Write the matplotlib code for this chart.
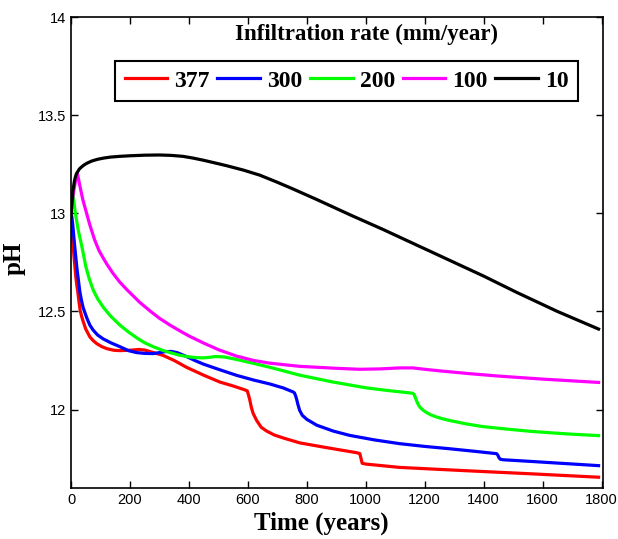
import matplotlib
matplotlib.use('Agg')
import matplotlib.pyplot as plt

# infiltration rates (mm/year) and pH vs time
rates = ['377', '300', '200', '100', '10']
colors = ['#ff0000', '#0000ff', '#00ff00', '#ff00ff', '#000000']

t_377 = [0, 2, 4, 7, 10, 13, 16, 20, 23, 27, 31, 36, 41, 50, 64, 76, 88, 105, 122, 145,
         166, 200, 230, 250, 280, 312, 350, 392, 450, 505, 550, 590, 598, 603, 607, 612,
         618, 630, 645, 664, 690, 720, 776, 870, 969, 980, 984, 988, 1000, 1115, 1342,
         1566, 1790]
ph_377 = [13.0, 12.95, 12.9, 12.84, 12.78, 12.73, 12.68, 12.63, 12.6, 12.55, 12.505, 12.475,
          12.45, 12.41, 12.37, 12.35, 12.335, 12.32, 12.31, 12.302, 12.30, 12.302, 12.306,
          12.303, 12.29, 12.276, 12.25, 12.215, 12.175, 12.14, 12.12, 12.10, 12.095, 12.07,
          12.046, 12.01, 11.98, 11.944, 11.91, 11.89, 11.87, 11.855, 11.83, 11.805, 11.78,
          11.775, 11.75, 11.726, 11.722, 11.705, 11.688, 11.672, 11.655]

t_300 = [0, 3, 6, 9, 12, 16, 20, 25, 30, 35, 41, 48, 54, 64, 75, 90, 109, 135, 166, 195,
         223, 250, 279, 300, 320, 340, 360, 392, 420, 448, 500, 562, 620, 675, 720, 753,
         758, 762, 766, 770, 776, 785, 800, 834, 890, 946, 1030, 1115, 1200, 1285, 1370,
         1444, 1448, 1452, 1456, 1466, 1566, 1790]
ph_300 = [13.0, 12.98, 12.94, 12.89, 12.84, 12.78, 12.72, 12.66, 12.6, 12.56, 12.52, 12.49,
          12.465, 12.43, 12.405, 12.38, 12.36, 12.34, 12.32, 12.30, 12.29, 12.286, 12.285,
          12.29, 12.295, 12.296, 12.29, 12.27, 12.25, 12.232, 12.205, 12.174, 12.15, 12.13,
          12.11, 12.09, 12.085, 12.07, 12.05, 12.025, 11.995, 11.97, 11.95, 11.92, 11.89,
          11.868, 11.845, 11.826, 11.812, 11.80, 11.787, 11.775, 11.768, 11.755, 11.747,
          11.744, 11.735, 11.714]

t_200 = [0, 3, 6, 9, 13, 17, 25, 34, 41, 50, 61, 75, 90, 110, 135, 166, 195, 223, 250,
         279, 310, 336, 365, 392, 420, 448, 470, 490, 520, 562, 620, 675, 776, 889, 1003,
         1080, 1159, 1164, 1168, 1172, 1178, 1185, 1195, 1206, 1222, 1240, 1260, 1285,
         1340, 1397, 1480, 1566, 1680, 1790]
ph_200 = [13.0, 13.07, 13.1, 13.07, 13.02, 12.98, 12.91, 12.85, 12.8, 12.73, 12.67, 12.61,
          12.565, 12.52, 12.475, 12.43, 12.395, 12.365, 12.34, 12.32, 12.302, 12.29, 12.278,
          12.27, 12.265, 12.263, 12.266, 12.27, 12.268, 12.255, 12.235, 12.215, 12.175,
          12.14, 12.11, 12.096, 12.083, 12.077, 12.062, 12.046, 12.026, 12.01, 11.996,
          11.985, 11.972, 11.962, 11.953, 11.944, 11.927, 11.913, 11.9, 11.888, 11.876,
          11.867]

t_100 = [0, 5, 10, 16, 22, 26, 30, 40, 51, 64, 80, 95, 110, 122, 142, 165, 190, 234, 270,
         300, 336, 370, 400, 448, 500, 562, 620, 675, 776, 900, 980, 1050, 1115, 1160, 1200,
         1251, 1350, 1454, 1600, 1790]
ph_100 = [13.0, 13.07, 13.12, 13.17, 13.2, 13.17, 13.14, 13.07, 13.01, 12.94, 12.865, 12.81,
          12.77, 12.74, 12.695, 12.65, 12.61, 12.545, 12.5, 12.465, 12.43, 12.4, 12.375,
          12.34, 12.305, 12.272, 12.25, 12.236, 12.22, 12.21, 12.205, 12.207, 12.212,
          12.212, 12.205, 12.197, 12.183, 12.17, 12.155, 12.138]

t_10 = [0, 2, 4, 6, 8, 11, 14, 18, 22, 28, 35, 44, 54, 70, 90, 110, 132, 165, 200, 250,
        300, 340, 380, 415, 450, 490, 529, 585, 641, 700, 750, 834, 950, 1058, 1170, 1285,
        1400, 1512, 1650, 1790]
ph_10 = [12.98, 13.03, 13.07, 13.11, 13.13, 13.16, 13.18, 13.2, 13.21, 13.225, 13.235,
         13.246, 13.255, 13.266, 13.275, 13.281, 13.286, 13.29, 13.293, 13.296, 13.297,
         13.295, 13.29, 13.281, 13.27, 13.256, 13.242, 13.22, 13.194, 13.158, 13.126, 13.07,
         12.99, 12.918, 12.84, 12.76, 12.68, 12.597, 12.5, 12.41]

series = [(t_377, ph_377), (t_300, ph_300), (t_200, ph_200), (t_100, ph_100), (t_10, ph_10)]

plt.rcParams['font.family'] = 'Liberation Sans'
serif = 'Liberation Serif'

fig = plt.figure(figsize=(6.18, 5.39), dpi=100)
ax = fig.add_axes([0.1149, 0.0946, 0.8608, 0.8738])

for (t, ph), lab, c in zip(series, rates, colors):
    ax.plot(t, ph, color=c, lw=2.3, label=lab, solid_joinstyle='round')

ax.set_xlim(0, 1805)
ax.set_ylim(11.6, 14)
ax.set_xticks(range(0, 1801, 200))
ax.set_yticks([12, 12.5, 13, 13.5, 14])
ax.set_yticklabels(['12', '12.5', '13', '13.5', '14'])
ax.tick_params(direction='in', top=True, right=True, length=5, width=1, labelsize=10.5)
for s in ax.spines.values():
    s.set_linewidth(1.2)

ax.set_xlabel('Time (years)', family=serif, weight='bold', fontsize=18)
ax.xaxis.set_label_coords(0.47, -0.05)
ax.set_ylabel('pH', family=serif, weight='bold', fontsize=18)
ax.yaxis.set_label_coords(-0.086, 0.488)

leg = ax.legend(ncol=5, loc='lower left', bbox_to_anchor=(0.083, 0.8217, 0.87, 0.0997),
                mode='expand', borderaxespad=0, fancybox=False, framealpha=1,
                edgecolor='black', handlelength=1.8, handletextpad=0.3,
                prop={'family': serif, 'weight': 'bold', 'size': 17})
leg.get_frame().set_linewidth(1.5)

ax.text(0.556, 0.964, 'Infiltration rate (mm/year)', transform=ax.transAxes,
        ha='center', va='center', family=serif, weight='bold', fontsize=16.5)

fig.savefig('out.png', dpi=100)
